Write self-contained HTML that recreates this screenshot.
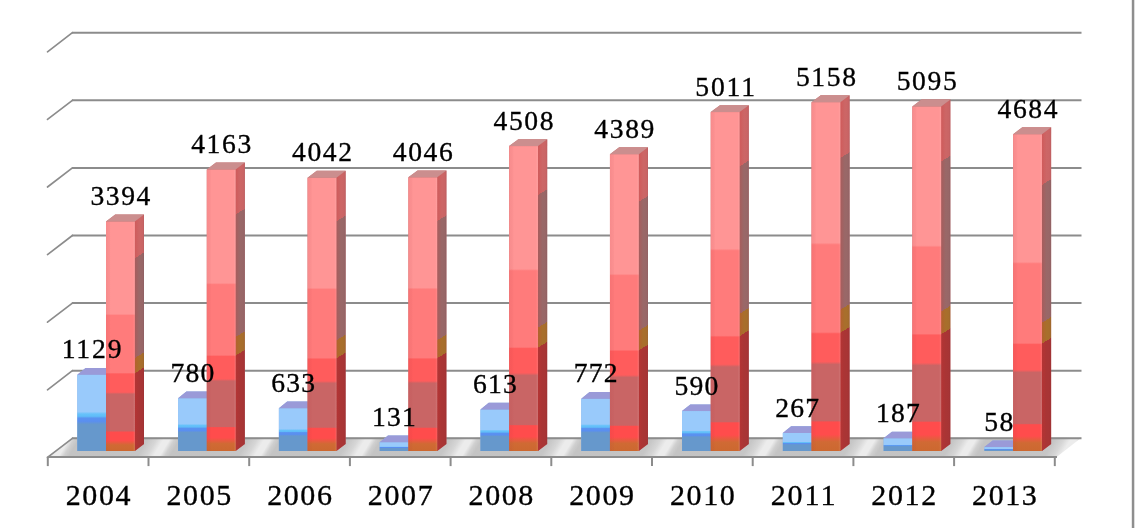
<!DOCTYPE html>
<html><head><meta charset="utf-8"><style>
html,body{margin:0;padding:0;background:#fff;}
body{width:1136px;height:528px;overflow:hidden;}
svg{display:block;filter:blur(0.45px);}
.dl{font-family:"Liberation Serif",serif;font-size:27.6px;text-anchor:middle;fill:#000;stroke:#000;stroke-width:0.35px;}
.al{font-family:"Liberation Serif",serif;font-size:30px;text-anchor:middle;fill:#000;stroke:#000;stroke-width:0.35px;}
</style></head><body>
<svg width="1136" height="528" viewBox="0 0 1136 528">
<defs><linearGradient id="floorg" gradientUnits="userSpaceOnUse" x1="0" y1="0" x2="100.79" y2="0" spreadMethod="repeat" gradientTransform="translate(378.8,0) skewX(-30.96)"><stop offset="0" stop-color="#c3c3c3"/><stop offset="0.321" stop-color="#c6c6c6"/><stop offset="0.411" stop-color="#d6d6d6"/><stop offset="0.48" stop-color="#ececec"/><stop offset="0.54" stop-color="#ececec"/><stop offset="0.589" stop-color="#d0d0d0"/><stop offset="0.639" stop-color="#c4c4c4"/><stop offset="1" stop-color="#c3c3c3"/></linearGradient>
<linearGradient id="rf" x1="0" y1="1" x2="0" y2="0"><stop offset="0" stop-color="#cc6830"/><stop offset="0.026" stop-color="#d06a34"/><stop offset="0.047" stop-color="#ff4c4c"/><stop offset="0.083" stop-color="#ff4c4c"/><stop offset="0.087" stop-color="#c96565"/><stop offset="0.248" stop-color="#c96565"/><stop offset="0.256" stop-color="#ff5c5c"/><stop offset="0.336" stop-color="#ff5c5c"/><stop offset="0.341" stop-color="#ff7b7b"/><stop offset="0.591" stop-color="#ff7b7b"/><stop offset="0.597" stop-color="#ff9595"/><stop offset="1" stop-color="#ff9595"/></linearGradient>
<linearGradient id="bf" x1="0" y1="1" x2="0" y2="0"><stop offset="0" stop-color="#6698cc"/><stop offset="0.35" stop-color="#6698cc"/><stop offset="0.39" stop-color="#5a8ff0"/><stop offset="0.43" stop-color="#5a92f0"/><stop offset="0.455" stop-color="#60bcf8"/><stop offset="0.485" stop-color="#66c2fa"/><stop offset="0.515" stop-color="#99cafb"/><stop offset="1" stop-color="#99cafb"/></linearGradient>
<linearGradient id="fedge" x1="0" y1="0" x2="1" y2="0"><stop offset="0" stop-color="#b0303a" stop-opacity="0.10"/><stop offset="0.12" stop-color="#b0303a" stop-opacity="0.05"/><stop offset="0.16" stop-color="#b0303a" stop-opacity="0"/><stop offset="0.93" stop-color="#ffffff" stop-opacity="0"/><stop offset="1" stop-color="#ffffff" stop-opacity="0.10"/></linearGradient>
<linearGradient id="sedge" x1="0" y1="0" x2="1" y2="0"><stop offset="0" stop-color="#e03030" stop-opacity="0.22"/><stop offset="0.3" stop-color="#e03030" stop-opacity="0.08"/><stop offset="0.5" stop-color="#e03030" stop-opacity="0"/><stop offset="0.85" stop-color="#301030" stop-opacity="0.02"/><stop offset="1" stop-color="#301030" stop-opacity="0.10"/></linearGradient>
<linearGradient id="rs0" gradientUnits="userSpaceOnUse" x1="0" y1="451" x2="0" y2="221.464" gradientTransform="translate(134.8,0) skewY(-31.5) translate(-134.8,0)"><stop offset="0" stop-color="#a93535"/><stop offset="0.339" stop-color="#a93535"/><stop offset="0.339" stop-color="#a86f2c"/><stop offset="0.405" stop-color="#a86f2c"/><stop offset="0.405" stop-color="#996868"/><stop offset="0.84" stop-color="#996868"/><stop offset="0.84" stop-color="#cc6666"/><stop offset="1" stop-color="#cc6666"/></linearGradient>
<linearGradient id="rs1" gradientUnits="userSpaceOnUse" x1="0" y1="451" x2="0" y2="169.456" gradientTransform="translate(235.59,0) skewY(-31.5) translate(-235.59,0)"><stop offset="0" stop-color="#a93535"/><stop offset="0.339" stop-color="#a93535"/><stop offset="0.339" stop-color="#a86f2c"/><stop offset="0.405" stop-color="#a86f2c"/><stop offset="0.405" stop-color="#996868"/><stop offset="0.84" stop-color="#996868"/><stop offset="0.84" stop-color="#cc6666"/><stop offset="1" stop-color="#cc6666"/></linearGradient>
<linearGradient id="rs2" gradientUnits="userSpaceOnUse" x1="0" y1="451" x2="0" y2="177.64" gradientTransform="translate(336.38,0) skewY(-31.5) translate(-336.38,0)"><stop offset="0" stop-color="#a93535"/><stop offset="0.339" stop-color="#a93535"/><stop offset="0.339" stop-color="#a86f2c"/><stop offset="0.405" stop-color="#a86f2c"/><stop offset="0.405" stop-color="#996868"/><stop offset="0.84" stop-color="#996868"/><stop offset="0.84" stop-color="#cc6666"/><stop offset="1" stop-color="#cc6666"/></linearGradient>
<linearGradient id="rs3" gradientUnits="userSpaceOnUse" x1="0" y1="451" x2="0" y2="177.369" gradientTransform="translate(437.17,0) skewY(-31.5) translate(-437.17,0)"><stop offset="0" stop-color="#a93535"/><stop offset="0.339" stop-color="#a93535"/><stop offset="0.339" stop-color="#a86f2c"/><stop offset="0.405" stop-color="#a86f2c"/><stop offset="0.405" stop-color="#996868"/><stop offset="0.84" stop-color="#996868"/><stop offset="0.84" stop-color="#cc6666"/><stop offset="1" stop-color="#cc6666"/></linearGradient>
<linearGradient id="rs4" gradientUnits="userSpaceOnUse" x1="0" y1="451" x2="0" y2="146.124" gradientTransform="translate(537.96,0) skewY(-31.5) translate(-537.96,0)"><stop offset="0" stop-color="#a93535"/><stop offset="0.339" stop-color="#a93535"/><stop offset="0.339" stop-color="#a86f2c"/><stop offset="0.405" stop-color="#a86f2c"/><stop offset="0.405" stop-color="#996868"/><stop offset="0.84" stop-color="#996868"/><stop offset="0.84" stop-color="#cc6666"/><stop offset="1" stop-color="#cc6666"/></linearGradient>
<linearGradient id="rs5" gradientUnits="userSpaceOnUse" x1="0" y1="451" x2="0" y2="154.172" gradientTransform="translate(638.75,0) skewY(-31.5) translate(-638.75,0)"><stop offset="0" stop-color="#a93535"/><stop offset="0.339" stop-color="#a93535"/><stop offset="0.339" stop-color="#a86f2c"/><stop offset="0.405" stop-color="#a86f2c"/><stop offset="0.405" stop-color="#996868"/><stop offset="0.84" stop-color="#996868"/><stop offset="0.84" stop-color="#cc6666"/><stop offset="1" stop-color="#cc6666"/></linearGradient>
<linearGradient id="rs6" gradientUnits="userSpaceOnUse" x1="0" y1="451" x2="0" y2="112.106" gradientTransform="translate(739.54,0) skewY(-31.5) translate(-739.54,0)"><stop offset="0" stop-color="#a93535"/><stop offset="0.339" stop-color="#a93535"/><stop offset="0.339" stop-color="#a86f2c"/><stop offset="0.405" stop-color="#a86f2c"/><stop offset="0.405" stop-color="#996868"/><stop offset="0.84" stop-color="#996868"/><stop offset="0.84" stop-color="#cc6666"/><stop offset="1" stop-color="#cc6666"/></linearGradient>
<linearGradient id="rs7" gradientUnits="userSpaceOnUse" x1="0" y1="451" x2="0" y2="102.164" gradientTransform="translate(840.33,0) skewY(-31.5) translate(-840.33,0)"><stop offset="0" stop-color="#a93535"/><stop offset="0.339" stop-color="#a93535"/><stop offset="0.339" stop-color="#a86f2c"/><stop offset="0.405" stop-color="#a86f2c"/><stop offset="0.405" stop-color="#996868"/><stop offset="0.84" stop-color="#996868"/><stop offset="0.84" stop-color="#cc6666"/><stop offset="1" stop-color="#cc6666"/></linearGradient>
<linearGradient id="rs8" gradientUnits="userSpaceOnUse" x1="0" y1="451" x2="0" y2="106.425" gradientTransform="translate(941.12,0) skewY(-31.5) translate(-941.12,0)"><stop offset="0" stop-color="#a93535"/><stop offset="0.339" stop-color="#a93535"/><stop offset="0.339" stop-color="#a86f2c"/><stop offset="0.405" stop-color="#a86f2c"/><stop offset="0.405" stop-color="#996868"/><stop offset="0.84" stop-color="#996868"/><stop offset="0.84" stop-color="#cc6666"/><stop offset="1" stop-color="#cc6666"/></linearGradient>
<linearGradient id="rs9" gradientUnits="userSpaceOnUse" x1="0" y1="451" x2="0" y2="134.221" gradientTransform="translate(1041.91,0) skewY(-31.5) translate(-1041.91,0)"><stop offset="0" stop-color="#a93535"/><stop offset="0.339" stop-color="#a93535"/><stop offset="0.339" stop-color="#a86f2c"/><stop offset="0.405" stop-color="#a86f2c"/><stop offset="0.405" stop-color="#996868"/><stop offset="0.84" stop-color="#996868"/><stop offset="0.84" stop-color="#cc6666"/><stop offset="1" stop-color="#cc6666"/></linearGradient></defs>
<polygon points="47.8,456.7 1057,456.7 1081.5,437.6 72.4,437.6" fill="url(#floorg)"/>
<line x1="47.5" y1="457.4" x2="72.4" y2="438.3" stroke="#8c8c8c" stroke-width="1.7" stroke-linecap="round"/>
<line x1="71.9" y1="438.3" x2="1081.5" y2="438.3" stroke="#8c8c8c" stroke-width="2"/>
<line x1="47.5" y1="389.8" x2="72.4" y2="370.7" stroke="#8c8c8c" stroke-width="1.7" stroke-linecap="round"/>
<line x1="71.9" y1="370.7" x2="1081.5" y2="370.7" stroke="#8c8c8c" stroke-width="2"/>
<line x1="47.5" y1="322.2" x2="72.4" y2="303.1" stroke="#8c8c8c" stroke-width="1.7" stroke-linecap="round"/>
<line x1="71.9" y1="303.1" x2="1081.5" y2="303.1" stroke="#8c8c8c" stroke-width="2"/>
<line x1="47.5" y1="254.6" x2="72.4" y2="235.5" stroke="#8c8c8c" stroke-width="1.7" stroke-linecap="round"/>
<line x1="71.9" y1="235.5" x2="1081.5" y2="235.5" stroke="#8c8c8c" stroke-width="2"/>
<line x1="47.5" y1="187" x2="72.4" y2="167.9" stroke="#8c8c8c" stroke-width="1.7" stroke-linecap="round"/>
<line x1="71.9" y1="167.9" x2="1081.5" y2="167.9" stroke="#8c8c8c" stroke-width="2"/>
<line x1="47.5" y1="119.4" x2="72.4" y2="100.3" stroke="#8c8c8c" stroke-width="1.7" stroke-linecap="round"/>
<line x1="71.9" y1="100.3" x2="1081.5" y2="100.3" stroke="#8c8c8c" stroke-width="2"/>
<line x1="47.5" y1="51.8" x2="72.4" y2="32.7" stroke="#8c8c8c" stroke-width="1.7" stroke-linecap="round"/>
<line x1="71.9" y1="32.7" x2="1081.5" y2="32.7" stroke="#8c8c8c" stroke-width="2"/>
<rect x="1131.8" y="0" width="2.5" height="528" fill="#8e8e8e"/>
<line x1="47.8" y1="456.95" x2="1057" y2="456.95" stroke="#8c8c8c" stroke-width="2"/>
<line x1="47.8" y1="456.7" x2="47.8" y2="466.1" stroke="#8c8c8c" stroke-width="2"/>
<line x1="148.5" y1="456.7" x2="148.5" y2="466.1" stroke="#8c8c8c" stroke-width="2"/>
<line x1="249.2" y1="456.7" x2="249.2" y2="466.1" stroke="#8c8c8c" stroke-width="2"/>
<line x1="349.9" y1="456.7" x2="349.9" y2="466.1" stroke="#8c8c8c" stroke-width="2"/>
<line x1="450.6" y1="456.7" x2="450.6" y2="466.1" stroke="#8c8c8c" stroke-width="2"/>
<line x1="551.3" y1="456.7" x2="551.3" y2="466.1" stroke="#8c8c8c" stroke-width="2"/>
<line x1="652" y1="456.7" x2="652" y2="466.1" stroke="#8c8c8c" stroke-width="2"/>
<line x1="752.7" y1="456.7" x2="752.7" y2="466.1" stroke="#8c8c8c" stroke-width="2"/>
<line x1="853.4" y1="456.7" x2="853.4" y2="466.1" stroke="#8c8c8c" stroke-width="2"/>
<line x1="954.1" y1="456.7" x2="954.1" y2="466.1" stroke="#8c8c8c" stroke-width="2"/>
<line x1="1054.8" y1="456.7" x2="1054.8" y2="466.1" stroke="#8c8c8c" stroke-width="2"/>
<polygon points="77.3,451 107,451 107,367.946 85.6,367.946 77.3,374.646" fill="#88aee0"/>
<rect x="77.3" y="374.646" width="29.7" height="76.354" fill="url(#bf)"/>
<polygon points="77.3,374.646 107,374.646 115.3,367.946 85.6,367.946" fill="#9a9ad8"/>
<polygon points="106,451 134.8,451 144,444.1 144,214.564 115.2,214.564 106,221.464" fill="#c47070"/>
<polygon points="134.8,451 144,444.1 144,214.564 134.8,221.464" fill="url(#rs0)"/>
<polygon points="134.8,451 144,444.1 144,214.564 134.8,221.464" fill="url(#sedge)"/>
<rect x="106" y="221.464" width="28.8" height="229.536" fill="url(#rf)"/>
<rect x="106" y="221.464" width="28.8" height="229.536" fill="url(#fedge)"/>
<polygon points="106,221.464 134.8,221.464 144,214.564 115.2,214.564" fill="#cb8e8e"/>
<polygon points="178.09,451 207.79,451 207.79,391.549 186.39,391.549 178.09,398.249" fill="#88aee0"/>
<rect x="178.09" y="398.249" width="29.7" height="52.751" fill="url(#bf)"/>
<polygon points="178.09,398.249 207.79,398.249 216.09,391.549 186.39,391.549" fill="#9a9ad8"/>
<polygon points="206.79,451 235.59,451 244.79,444.1 244.79,162.556 215.99,162.556 206.79,169.456" fill="#c47070"/>
<polygon points="235.59,451 244.79,444.1 244.79,162.556 235.59,169.456" fill="url(#rs1)"/>
<polygon points="235.59,451 244.79,444.1 244.79,162.556 235.59,169.456" fill="url(#sedge)"/>
<rect x="206.79" y="169.456" width="28.8" height="281.544" fill="url(#rf)"/>
<rect x="206.79" y="169.456" width="28.8" height="281.544" fill="url(#fedge)"/>
<polygon points="206.79,169.456 235.59,169.456 244.79,162.556 215.99,162.556" fill="#cb8e8e"/>
<polygon points="278.88,451 308.58,451 308.58,401.49 287.18,401.49 278.88,408.19" fill="#88aee0"/>
<rect x="278.88" y="408.19" width="29.7" height="42.81" fill="url(#bf)"/>
<polygon points="278.88,408.19 308.58,408.19 316.88,401.49 287.18,401.49" fill="#9a9ad8"/>
<polygon points="307.58,451 336.38,451 345.58,444.1 345.58,170.74 316.78,170.74 307.58,177.64" fill="#c47070"/>
<polygon points="336.38,451 345.58,444.1 345.58,170.74 336.38,177.64" fill="url(#rs2)"/>
<polygon points="336.38,451 345.58,444.1 345.58,170.74 336.38,177.64" fill="url(#sedge)"/>
<rect x="307.58" y="177.64" width="28.8" height="273.36" fill="url(#rf)"/>
<rect x="307.58" y="177.64" width="28.8" height="273.36" fill="url(#fedge)"/>
<polygon points="307.58,177.64 336.38,177.64 345.58,170.74 316.78,170.74" fill="#cb8e8e"/>
<polygon points="379.67,451 409.37,451 409.37,435.44 387.97,435.44 379.67,442.14" fill="#88aee0"/>
<rect x="379.67" y="442.14" width="29.7" height="8.86" fill="url(#bf)"/>
<polygon points="379.67,442.14 409.37,442.14 417.67,435.44 387.97,435.44" fill="#9a9ad8"/>
<polygon points="408.37,451 437.17,451 446.37,444.1 446.37,170.469 417.57,170.469 408.37,177.369" fill="#c47070"/>
<polygon points="437.17,451 446.37,444.1 446.37,170.469 437.17,177.369" fill="url(#rs3)"/>
<polygon points="437.17,451 446.37,444.1 446.37,170.469 437.17,177.369" fill="url(#sedge)"/>
<rect x="408.37" y="177.369" width="28.8" height="273.631" fill="url(#rf)"/>
<rect x="408.37" y="177.369" width="28.8" height="273.631" fill="url(#fedge)"/>
<polygon points="408.37,177.369 437.17,177.369 446.37,170.469 417.57,170.469" fill="#cb8e8e"/>
<polygon points="480.46,451 510.16,451 510.16,402.843 488.76,402.843 480.46,409.543" fill="#88aee0"/>
<rect x="480.46" y="409.543" width="29.7" height="41.457" fill="url(#bf)"/>
<polygon points="480.46,409.543 510.16,409.543 518.46,402.843 488.76,402.843" fill="#9a9ad8"/>
<polygon points="509.16,451 537.96,451 547.16,444.1 547.16,139.224 518.36,139.224 509.16,146.124" fill="#c47070"/>
<polygon points="537.96,451 547.16,444.1 547.16,139.224 537.96,146.124" fill="url(#rs4)"/>
<polygon points="537.96,451 547.16,444.1 547.16,139.224 537.96,146.124" fill="url(#sedge)"/>
<rect x="509.16" y="146.124" width="28.8" height="304.876" fill="url(#rf)"/>
<rect x="509.16" y="146.124" width="28.8" height="304.876" fill="url(#fedge)"/>
<polygon points="509.16,146.124 537.96,146.124 547.16,139.224 518.36,139.224" fill="#cb8e8e"/>
<polygon points="581.25,451 610.95,451 610.95,392.09 589.55,392.09 581.25,398.79" fill="#88aee0"/>
<rect x="581.25" y="398.79" width="29.7" height="52.21" fill="url(#bf)"/>
<polygon points="581.25,398.79 610.95,398.79 619.25,392.09 589.55,392.09" fill="#9a9ad8"/>
<polygon points="609.95,451 638.75,451 647.95,444.1 647.95,147.272 619.15,147.272 609.95,154.172" fill="#c47070"/>
<polygon points="638.75,451 647.95,444.1 647.95,147.272 638.75,154.172" fill="url(#rs5)"/>
<polygon points="638.75,451 647.95,444.1 647.95,147.272 638.75,154.172" fill="url(#sedge)"/>
<rect x="609.95" y="154.172" width="28.8" height="296.828" fill="url(#rf)"/>
<rect x="609.95" y="154.172" width="28.8" height="296.828" fill="url(#fedge)"/>
<polygon points="609.95,154.172 638.75,154.172 647.95,147.272 619.15,147.272" fill="#cb8e8e"/>
<polygon points="682.04,451 711.74,451 711.74,404.398 690.34,404.398 682.04,411.098" fill="#88aee0"/>
<rect x="682.04" y="411.098" width="29.7" height="39.902" fill="url(#bf)"/>
<polygon points="682.04,411.098 711.74,411.098 720.04,404.398 690.34,404.398" fill="#9a9ad8"/>
<polygon points="710.74,451 739.54,451 748.74,444.1 748.74,105.206 719.94,105.206 710.74,112.106" fill="#c47070"/>
<polygon points="739.54,451 748.74,444.1 748.74,105.206 739.54,112.106" fill="url(#rs6)"/>
<polygon points="739.54,451 748.74,444.1 748.74,105.206 739.54,112.106" fill="url(#sedge)"/>
<rect x="710.74" y="112.106" width="28.8" height="338.894" fill="url(#rf)"/>
<rect x="710.74" y="112.106" width="28.8" height="338.894" fill="url(#fedge)"/>
<polygon points="710.74,112.106 739.54,112.106 748.74,105.206 719.94,105.206" fill="#cb8e8e"/>
<polygon points="782.83,451 812.53,451 812.53,426.243 791.13,426.243 782.83,432.943" fill="#88aee0"/>
<rect x="782.83" y="432.943" width="29.7" height="18.057" fill="url(#bf)"/>
<polygon points="782.83,432.943 812.53,432.943 820.83,426.243 791.13,426.243" fill="#9a9ad8"/>
<polygon points="811.53,451 840.33,451 849.53,444.1 849.53,95.264 820.73,95.264 811.53,102.164" fill="#c47070"/>
<polygon points="840.33,451 849.53,444.1 849.53,95.264 840.33,102.164" fill="url(#rs7)"/>
<polygon points="840.33,451 849.53,444.1 849.53,95.264 840.33,102.164" fill="url(#sedge)"/>
<rect x="811.53" y="102.164" width="28.8" height="348.836" fill="url(#rf)"/>
<rect x="811.53" y="102.164" width="28.8" height="348.836" fill="url(#fedge)"/>
<polygon points="811.53,102.164 840.33,102.164 849.53,95.264 820.73,95.264" fill="#cb8e8e"/>
<polygon points="883.62,451 913.32,451 913.32,431.653 891.92,431.653 883.62,438.353" fill="#88aee0"/>
<rect x="883.62" y="438.353" width="29.7" height="12.647" fill="url(#bf)"/>
<polygon points="883.62,438.353 913.32,438.353 921.62,431.653 891.92,431.653" fill="#9a9ad8"/>
<polygon points="912.32,451 941.12,451 950.32,444.1 950.32,99.525 921.52,99.525 912.32,106.425" fill="#c47070"/>
<polygon points="941.12,451 950.32,444.1 950.32,99.525 941.12,106.425" fill="url(#rs8)"/>
<polygon points="941.12,451 950.32,444.1 950.32,99.525 941.12,106.425" fill="url(#sedge)"/>
<rect x="912.32" y="106.425" width="28.8" height="344.575" fill="url(#rf)"/>
<rect x="912.32" y="106.425" width="28.8" height="344.575" fill="url(#fedge)"/>
<polygon points="912.32,106.425 941.12,106.425 950.32,99.525 921.52,99.525" fill="#cb8e8e"/>
<polygon points="984.41,451 1014.11,451 1014.11,440.377 992.71,440.377 984.41,447.077" fill="#88aee0"/>
<rect x="984.41" y="447.077" width="29.7" height="3.923" fill="url(#bf)"/>
<polygon points="984.41,447.077 1014.11,447.077 1022.41,440.377 992.71,440.377" fill="#9a9ad8"/>
<polygon points="1013.11,451 1041.91,451 1051.11,444.1 1051.11,127.321 1022.31,127.321 1013.11,134.221" fill="#c47070"/>
<polygon points="1041.91,451 1051.11,444.1 1051.11,127.321 1041.91,134.221" fill="url(#rs9)"/>
<polygon points="1041.91,451 1051.11,444.1 1051.11,127.321 1041.91,134.221" fill="url(#sedge)"/>
<rect x="1013.11" y="134.221" width="28.8" height="316.779" fill="url(#rf)"/>
<rect x="1013.11" y="134.221" width="28.8" height="316.779" fill="url(#fedge)"/>
<polygon points="1013.11,134.221 1041.91,134.221 1051.11,127.321 1022.31,127.321" fill="#cb8e8e"/>
<text x="120.4" y="205.264" class="dl" textLength="60" lengthAdjust="spacing">3394</text>
<text x="91.65" y="358.346" class="dl" textLength="60" lengthAdjust="spacing">1129</text>
<text x="221.19" y="153.256" class="dl" textLength="60" lengthAdjust="spacing">4163</text>
<text x="192.44" y="381.949" class="dl" textLength="43.8" lengthAdjust="spacing">780</text>
<text x="321.98" y="161.44" class="dl" textLength="60" lengthAdjust="spacing">4042</text>
<text x="293.23" y="391.89" class="dl" textLength="43.8" lengthAdjust="spacing">633</text>
<text x="422.77" y="161.169" class="dl" textLength="60" lengthAdjust="spacing">4046</text>
<text x="394.02" y="425.84" class="dl" textLength="43.8" lengthAdjust="spacing">131</text>
<text x="523.56" y="129.924" class="dl" textLength="60" lengthAdjust="spacing">4508</text>
<text x="494.81" y="393.243" class="dl" textLength="43.8" lengthAdjust="spacing">613</text>
<text x="624.35" y="137.972" class="dl" textLength="60" lengthAdjust="spacing">4389</text>
<text x="595.6" y="382.49" class="dl" textLength="43.8" lengthAdjust="spacing">772</text>
<text x="725.14" y="95.906" class="dl" textLength="60" lengthAdjust="spacing">5011</text>
<text x="696.39" y="394.798" class="dl" textLength="43.8" lengthAdjust="spacing">590</text>
<text x="825.93" y="85.964" class="dl" textLength="60" lengthAdjust="spacing">5158</text>
<text x="797.18" y="416.643" class="dl" textLength="43.8" lengthAdjust="spacing">267</text>
<text x="926.72" y="90.225" class="dl" textLength="60" lengthAdjust="spacing">5095</text>
<text x="897.97" y="422.053" class="dl" textLength="43.8" lengthAdjust="spacing">187</text>
<text x="1027.51" y="118.021" class="dl" textLength="60" lengthAdjust="spacing">4684</text>
<text x="998.76" y="430.777" class="dl" textLength="29.2" lengthAdjust="spacing">58</text>
<text x="98.15" y="504.9" class="al" textLength="64.8" lengthAdjust="spacing">2004</text>
<text x="198.85" y="504.9" class="al" textLength="64.8" lengthAdjust="spacing">2005</text>
<text x="299.55" y="504.9" class="al" textLength="64.8" lengthAdjust="spacing">2006</text>
<text x="400.25" y="504.9" class="al" textLength="64.8" lengthAdjust="spacing">2007</text>
<text x="500.95" y="504.9" class="al" textLength="64.8" lengthAdjust="spacing">2008</text>
<text x="601.65" y="504.9" class="al" textLength="64.8" lengthAdjust="spacing">2009</text>
<text x="702.35" y="504.9" class="al" textLength="64.8" lengthAdjust="spacing">2010</text>
<text x="803.05" y="504.9" class="al" textLength="64.8" lengthAdjust="spacing">2011</text>
<text x="903.75" y="504.9" class="al" textLength="64.8" lengthAdjust="spacing">2012</text>
<text x="1004.45" y="504.9" class="al" textLength="64.8" lengthAdjust="spacing">2013</text>
</svg>
</body></html>
